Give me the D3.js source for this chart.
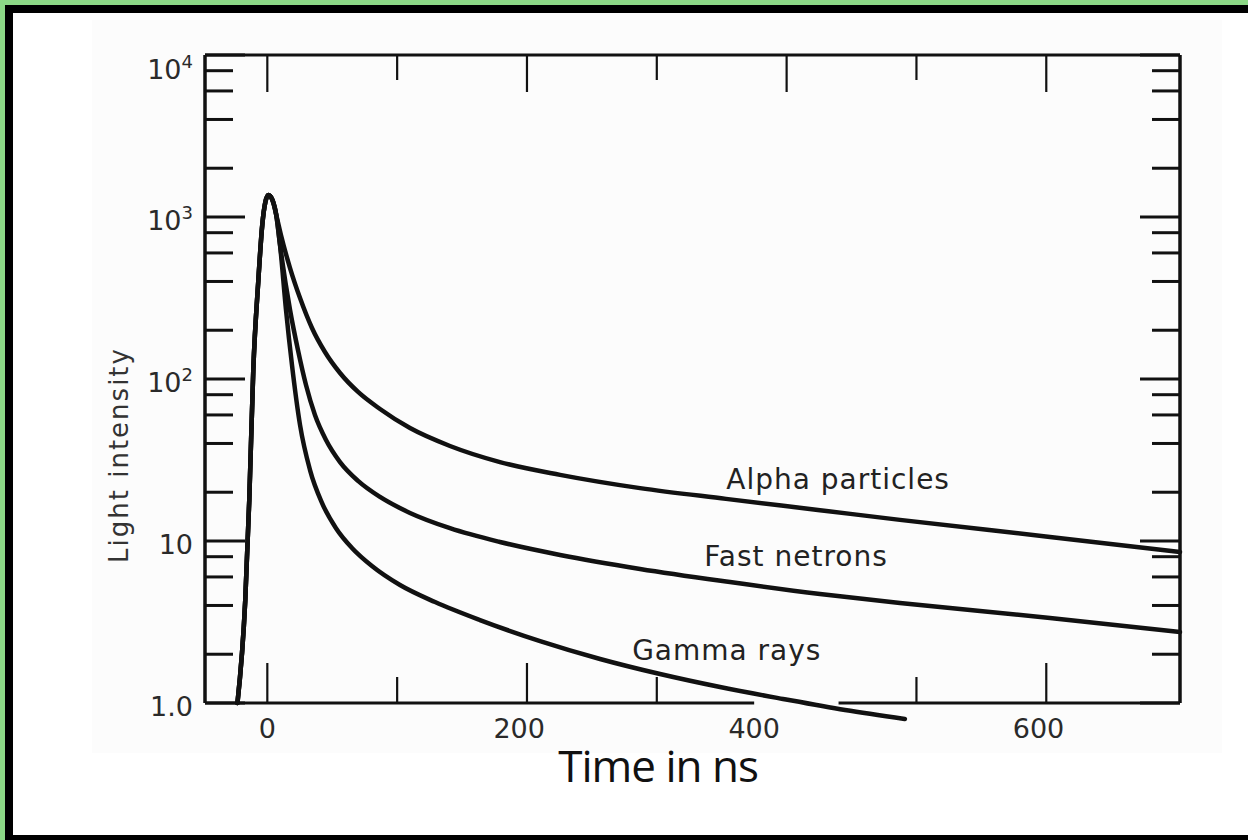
<!DOCTYPE html>
<html>
<head>
<meta charset="utf-8">
<script src="https://cdn.jsdelivr.net/npm/d3@7"></script>
<style>
  html, body { margin: 0; padding: 0; background: #fff; }
  svg { display: block; }
</style>
</head>
<body>
<div id="chart"></div>
<script>
// Shared rising edge + peak (time in ns, light intensity)
const riseT = [-23, -17, -13.9, -10.8, -6.9, -3.9, -1.5, 0.8, 3.9, 6.9];
const riseV = [1.0, 4.3, 17.9, 114, 408, 893, 1238, 1367, 1274, 1028];

// Decay tails
const alphaT = [10.5, 17.5, 25.2, 34.4, 44.4, 56, 69.9, 86.8, 109.9, 140.7, 179.2, 225.5, 287.1, 353.3, 425.7, 487.3, 602.9, 703];
const alphaV = [774, 484, 316, 206.5, 146.8, 108.9, 83.2, 65.3, 49.8, 38.6, 30.7, 25.6, 21.2, 18.2, 15.5, 13.5, 10.6, 8.55];

const neutronT = [9.8, 17.5, 23.6, 29.8, 36.7, 45.2, 56, 69.9, 86.8, 109.9, 140.7, 179.2, 225.5, 287.1, 356.4, 425.7, 487.3, 602.9, 703];
const neutronV = [671, 266.6, 151, 91.8, 59.9, 42.0, 30.7, 23.5, 18.7, 14.9, 12.0, 9.86, 8.20, 6.72, 5.58, 4.71, 4.14, 3.35, 2.74];

const gammaT = [9.8, 14.4, 19, 25.2, 32.9, 42.1, 52.9, 65.2, 80.6, 102.2, 129.2, 163.8, 210.1, 256.3, 302.5, 348.7, 397.2, 445, 491.1];
const gammaV = [671, 266.6, 122, 52.0, 27.4, 17.2, 12.0, 9.06, 7.01, 5.35, 4.20, 3.25, 2.41, 1.87, 1.51, 1.255, 1.059, 0.905, 0.797];

// Curve labels: text, time, intensity (baseline anchor)
const curveLabels = ['Alpha particles', 'Fast netrons', 'Gamma rays'];
const curveLabelT = [353.5, 336.6, 281];
const curveLabelV = [20.9, 7.0, 1.85];

// Axis ticks
const yMajor = [1, 10, 100, 1000, 10000];
const yMinorMult = [2, 4, 6, 8];
const yLabels = [['1.0', ''], ['10', ''], ['10', '2'], ['10', '3'], ['10', '4']];
const xTopTicks = [0, 100, 200, 300, 400, 500, 600];
const xBottomTicks = [0, 100, 200, 300, 500, 600];
const xLabels = ['0', '200', '400', '600'];
const xLabelT = [0, 194, 375, 594];
const bottomAxisSegments = [[-48, 375], [440, 703]];

const W = 1248, H = 840;
const svg = d3.select('#chart').append('svg')
  .attr('width', W).attr('height', H);

// Frame: green outer, black inner
svg.append('rect').attr('width', W).attr('height', H).attr('fill', '#8cd886');
svg.append('rect').attr('x', 5).attr('y', 5).attr('width', W - 5).attr('height', H - 5).attr('fill', '#000');
svg.append('rect').attr('x', 13).attr('y', 13).attr('width', W - 13).attr('height', H - 13 - 5).attr('fill', '#fff');
// scanned figure area
svg.append('rect').attr('x', 92).attr('y', 20).attr('width', 1130).attr('height', 733).attr('fill', '#fcfcfc');

const x = d3.scaleLinear().domain([-48, 703]).range([205, 1180]);
const y = d3.scaleLog().domain([1, 10000]).range([703, 55]);

const ink = '#111';
const g = svg.append('g');

// Frame lines of the plot
g.append('line').attr('x1', x(-48)).attr('x2', x(703)).attr('y1', y(10000)).attr('y2', y(10000))
  .attr('stroke', ink).attr('stroke-width', 3);
g.append('line').attr('x1', x(-48)).attr('x2', x(-48)).attr('y1', y(10000)).attr('y2', y(1))
  .attr('stroke', ink).attr('stroke-width', 3.5);
g.append('line').attr('x1', x(703)).attr('x2', x(703)).attr('y1', y(10000)).attr('y2', y(1))
  .attr('stroke', ink).attr('stroke-width', 3.5);
bottomAxisSegments.forEach(s => {
  g.append('line').attr('x1', x(s[0])).attr('x2', x(s[1])).attr('y1', y(1)).attr('y2', y(1))
    .attr('stroke', ink).attr('stroke-width', 3);
});

// Y ticks (left and right, pointing inward)
const yTicks = [];
yMajor.forEach(m => yTicks.push({ v: m, major: true }));
yMajor.slice(0, -1).forEach(m => yMinorMult.forEach(k => yTicks.push({ v: m * k, major: false })));
yTicks.forEach(t => {
  const len = t.major ? 40 : 28;
  g.append('line').attr('x1', x(-48)).attr('x2', x(-48) + len)
    .attr('y1', y(t.v)).attr('y2', y(t.v)).attr('stroke', ink).attr('stroke-width', 3);
  g.append('line').attr('x1', x(703)).attr('x2', x(703) - len)
    .attr('y1', y(t.v)).attr('y2', y(t.v)).attr('stroke', ink).attr('stroke-width', 3);
});

// X ticks top (pointing down) and bottom (pointing up)
xTopTicks.forEach(t => {
  const len = t % 200 === 0 ? 37 : 25;
  g.append('line').attr('x1', x(t)).attr('x2', x(t)).attr('y1', y(10000)).attr('y2', y(10000) + len)
    .attr('stroke', ink).attr('stroke-width', 2.2);
});
xBottomTicks.forEach(t => {
  const len = t % 200 === 0 ? 40 : 26;
  g.append('line').attr('x1', x(t)).attr('x2', x(t)).attr('y1', y(1)).attr('y2', y(1) - len)
    .attr('stroke', ink).attr('stroke-width', 2.2);
});

// Y tick labels
const labelFont = 'DejaVu Sans, sans-serif';
yMajor.forEach((m, i) => {
  const [base, sup] = yLabels[i];
  const yy = y(m) + (m === 10000 ? 15 : 4);
  const t = g.append('text')
    .attr('x', 193).attr('y', yy + 9)
    .attr('text-anchor', 'end')
    .attr('font-family', labelFont).attr('font-size', 27)
    .attr('fill', '#2a2a2a');
  t.append('tspan').text(base);
  if (sup) t.append('tspan').attr('dy', -11).attr('font-size', 18).text(sup);
});

// X tick labels
xLabels.forEach((l, i) => {
  g.append('text')
    .attr('x', x(xLabelT[i])).attr('y', 738)
    .attr('text-anchor', 'middle')
    .attr('font-family', labelFont).attr('font-size', 27)
    .attr('fill', '#2a2a2a')
    .text(l);
});

// Axis titles
g.append('text')
  .attr('transform', `translate(128, 455) rotate(-90)`)
  .attr('text-anchor', 'middle')
  .attr('font-family', labelFont).attr('font-size', 26)
  .attr('letter-spacing', 2)
  .attr('fill', '#333')
  .text('Light intensity');

g.append('text')
  .attr('x', x(301)).attr('y', 782)
  .attr('text-anchor', 'middle')
  .attr('font-family', 'Open Sans, sans-serif').attr('font-size', 44)
  .attr('letter-spacing', -1)
  .attr('fill', '#111')
  .text('Time in ns');

// Curves
const line = d3.line()
  .x(d => x(d[0]))
  .y(d => y(d[1]))
  .curve(d3.curveMonotoneX);

const rise = riseT.map((t, i) => [t, riseV[i]]);
const series = [
  [alphaT, alphaV],
  [neutronT, neutronV],
  [gammaT, gammaV]
].map(([ts, vs]) => rise.concat(ts.map((t, i) => [t, vs[i]])));

g.selectAll('.curve')
  .data(series)
  .join('path')
  .attr('class', 'curve')
  .attr('d', line)
  .attr('fill', 'none')
  .attr('stroke', ink)
  .attr('stroke-width', 4.5)
  .attr('stroke-linejoin', 'round')
  .attr('stroke-linecap', 'round');

// Curve labels
curveLabels.forEach((l, i) => {
  g.append('text')
    .attr('x', x(curveLabelT[i])).attr('y', y(curveLabelV[i]))
    .attr('font-family', labelFont).attr('font-size', 28)
    .attr('letter-spacing', 1)
    .attr('fill', '#222')
    .text(l);
});
</script>
</body>
</html>
